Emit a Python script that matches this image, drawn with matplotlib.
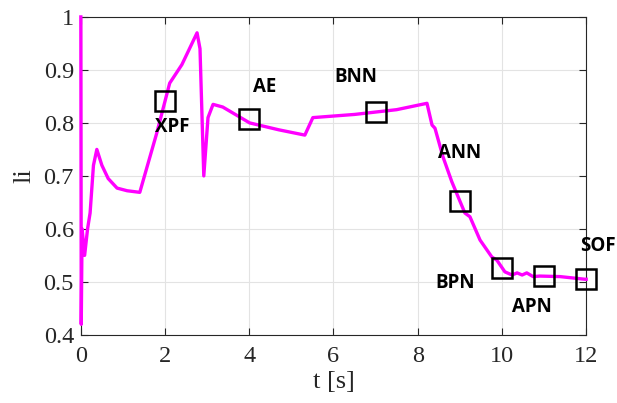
import numpy as np
import matplotlib.pyplot as plt

# curve
t = [0.0, 0.01, 0.03, 0.09, 0.16, 0.22, 0.30, 0.38, 0.50, 0.65, 0.86, 1.10, 1.40,
     1.80, 2.11, 2.40, 2.76, 2.83, 2.92, 3.02, 3.14, 3.37, 4.01, 4.70, 5.32, 5.51,
     6.50, 7.50, 8.22, 8.34, 8.41, 8.60, 8.81, 9.12, 9.24, 9.48, 9.76, 9.88, 10.07,
     10.24, 10.36, 10.48, 10.59, 10.74, 10.90, 11.38, 11.97, 12.0]
li = [1.0, 0.42, 0.60, 0.55, 0.60, 0.63, 0.72, 0.75, 0.72, 0.695, 0.677, 0.672, 0.669,
      0.78, 0.875, 0.91, 0.97, 0.94, 0.70, 0.81, 0.835, 0.83, 0.80, 0.787, 0.777, 0.81,
      0.816, 0.825, 0.837, 0.796, 0.79, 0.736, 0.689, 0.63, 0.623, 0.579, 0.547, 0.541, 0.519,
      0.513, 0.517, 0.513, 0.517, 0.51, 0.511, 0.51, 0.505, 0.505]

# event markers and labels
ev_t = [2, 4, 7, 9, 10, 11, 12]
ev_li = [0.842, 0.807, 0.821, 0.652, 0.527, 0.512, 0.506]
ev_names = ["XPF", "AE", "BNN", "ANN", "BPN", "APN", "SOF"]
lab_t = [2.16, 4.37, 6.53, 9.0, 8.88, 10.71, 12.28]
lab_li = [0.793, 0.868, 0.887, 0.743, 0.498, 0.453, 0.568]

xticks = [0, 2, 4, 6, 8, 10, 12]
yticks = [0.4, 0.5, 0.6, 0.7, 0.8, 0.9, 1.0]
ytick_labels = ["0.4", "0.5", "0.6", "0.7", "0.8", "0.9", "1"]

fig = plt.figure(figsize=(6.17, 4.03), dpi=100)
ax = fig.add_axes([0.131, 0.169, 0.819, 0.789])

ax.plot(t, li, color="#ff00ff", lw=2.4, zorder=3, clip_on=False)
ax.plot(ev_t, ev_li, ls="none", marker="s", ms=15, mfc="none", mec="black",
        mew=1.8, zorder=4, clip_on=False)
for x, y, s in zip(lab_t, lab_li, ev_names):
    ax.text(x, y, s, ha="center", va="center", fontsize=13.5, fontweight="bold",
            family="Open Sans", color="black", zorder=5)

ax.set_xlim(0, 12)
ax.set_ylim(0.4, 1.0)
ax.set_xticks(xticks)
ax.set_yticks(yticks)
ax.set_yticklabels(ytick_labels)
ax.grid(True, color="#e3e3e3", lw=0.8)
ax.set_axisbelow(True)
ax.tick_params(direction="in", top=True, right=True, length=5, width=0.8,
               color="#262626", labelsize=17.5, labelcolor="#262626")
ax.tick_params(axis="x", pad=8)
ax.tick_params(axis="y", pad=5)
for lab in ax.get_xticklabels() + ax.get_yticklabels():
    lab.set_family("Liberation Serif")
for sp in ax.spines.values():
    sp.set_color("#262626")
    sp.set_linewidth(0.8)

ax.set_xlabel("t [s]", fontsize=19, family="Liberation Serif", color="#262626", labelpad=3)
ax.set_ylabel("li", fontsize=19, family="Liberation Serif", color="#262626", labelpad=6)

fig.savefig("out.png", dpi=100)
